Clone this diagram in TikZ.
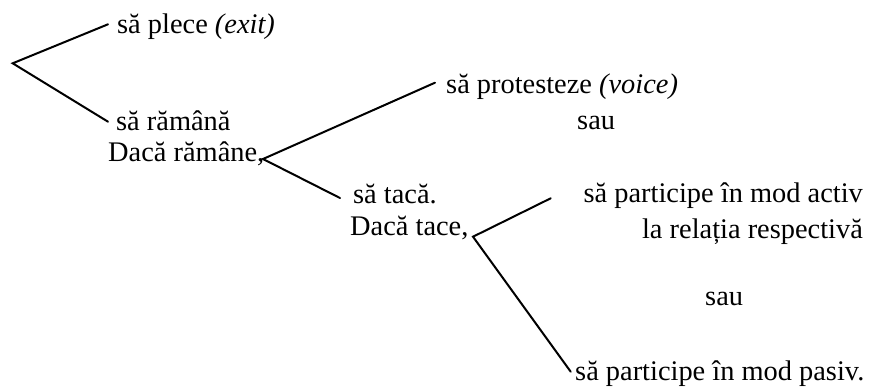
\documentclass[tikz,border=0pt]{standalone}
\usepackage{fontspec}
\setmainfont{Liberation Serif}
\begin{document}
\begin{tikzpicture}[x=1bp,y=-1bp,
  lbl/.style={inner sep=0pt, font=\fontsize{28.5}{34}\selectfont},
  lw/.style={lbl, anchor=base west},
  le/.style={lbl, anchor=base east},
  branch/.style={line width=2bp, line cap=round, line join=miter}]
\useasboundingbox (0,0) rectangle (871,389);
% texts
\node[lw] (plece)   at (117,33)   {să plece \textit{(exit)}};
\node[lw] (ramana)  at (116,130)  {să rămână};
\node[lw] (dacaR)   at (108,161.7){Dacă rămâne,};
\node[lw] (protest) at (446,93)   {să protesteze \textit{(voice)}};
\node[lw] (sauA)    at (577,129)  {sau};
\node[lw] (taca)    at (353,203)  {să tacă.};
\node[lw] (dacaT)   at (350,235)  {Dacă tace,};
\node[le] (activ)   at (863,202)  {să participe în mod activ};
\node[le] (relatia) at (863,238)  {la relația respectivă};
\node[lw] (sauB)    at (705,305)  {sau};
\node[lw] (pasiv)   at (575,380)  {să participe în mod pasiv.};
% branch points
\coordinate (v1) at (12.7,63.3);
\coordinate (e1a) at (108,24.3);
\coordinate (e1b) at (108,121.7);
\coordinate (v2) at (263,159);
\coordinate (e2a) at (435,82.7);
\coordinate (e2b) at (340,198);
\coordinate (v3) at (473,236.7);
\coordinate (e3a) at (550.7,198.3);
\coordinate (e3b) at (570.7,371.7);
\draw[branch] (e1a) -- (v1) -- (e1b);
\draw[branch] (e2a) -- (v2) -- (e2b);
\draw[branch] (e3a) -- (v3) -- (e3b);
\end{tikzpicture}
\end{document}
